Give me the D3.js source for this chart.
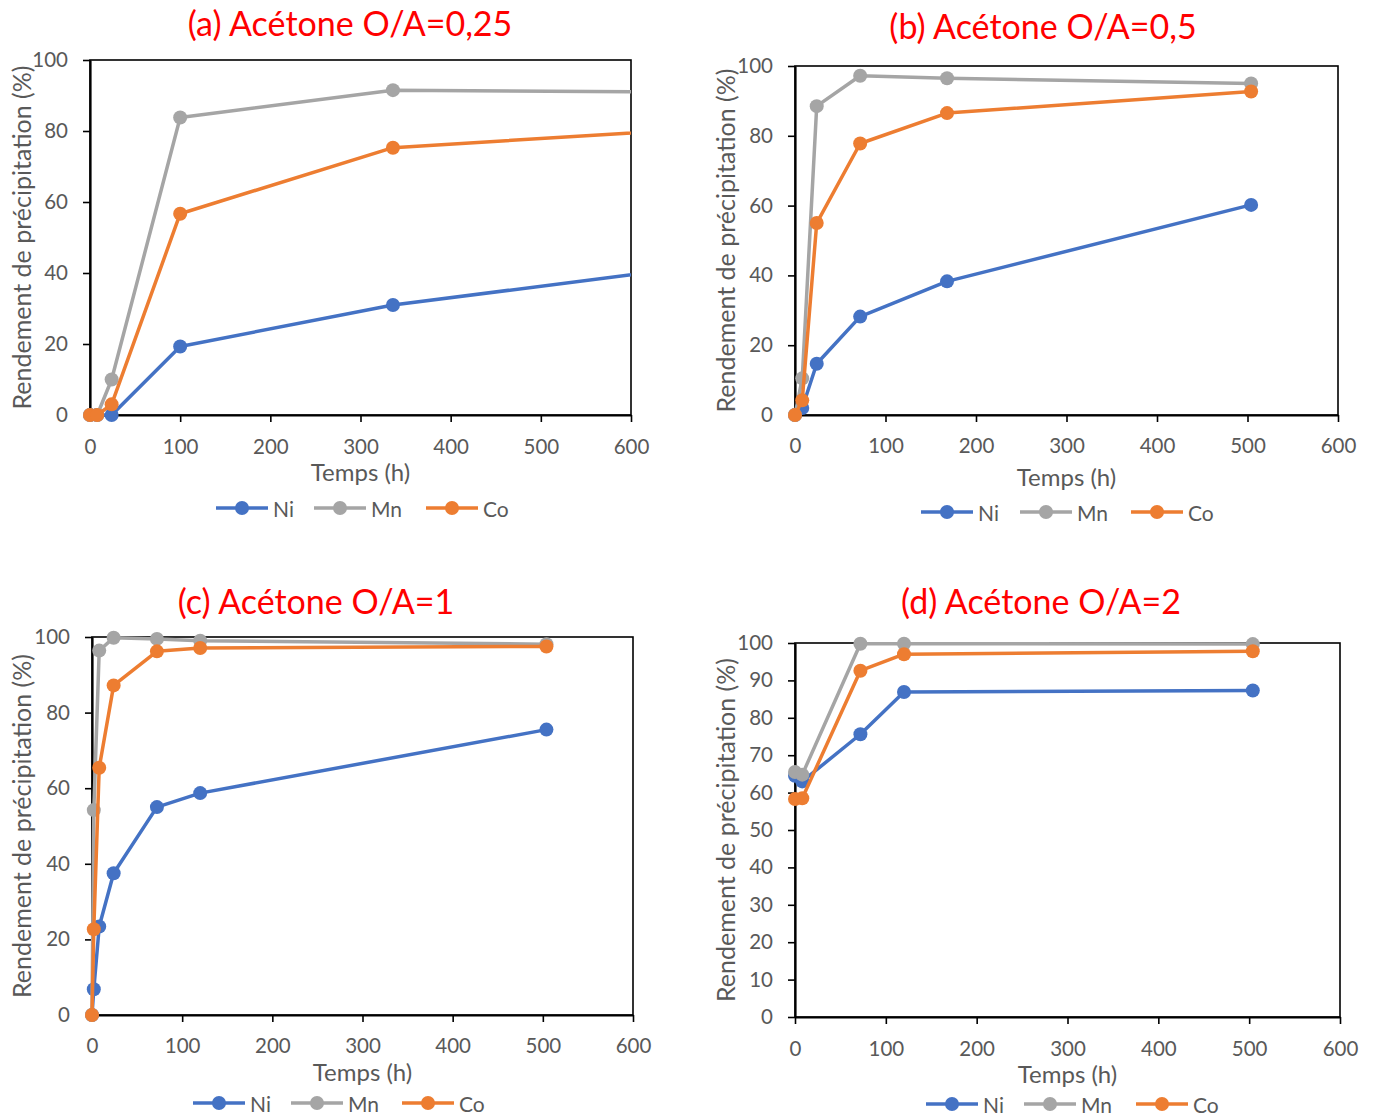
<!DOCTYPE html>
<html><head><meta charset="utf-8">
<script src="https://cdn.jsdelivr.net/npm/d3@7"></script>
<style>body{margin:0;background:#fff}svg{display:block;font-family:Lato,"Open Sans",sans-serif}</style>
</head><body><svg id="c" width="1373" height="1115"></svg>
<script>
// ---- data ----
const seriesNames = ["Ni", "Mn", "Co"];
const colors = ["#4472C4", "#A5A5A5", "#ED7D31"];
const titles = ["(a) Acétone O/A=0,25", "(b) Acétone O/A=0,5", "(c) Acétone O/A=1", "(d) Acétone O/A=2"];
const xTicks = [0, 100, 200, 300, 400, 500, 600];
const yTicksA = [0, 20, 40, 60, 80, 100];
const yTicksD = [0, 10, 20, 30, 40, 50, 60, 70, 80, 90, 100];

const timeA = [0, 8, 24, 100, 336, 672];
const niA = [0, 0, 0, 19.3, 31.0, 41.8];
const mnA = [0, 0, 10.0, 83.8, 91.5, 90.9];
const coA = [0, 0, 3.0, 56.7, 75.3, 80.6];

const timeB = [0, 8, 24, 72, 168, 504];
const niB = [0, 2.0, 14.7, 28.2, 38.3, 60.2];
const mnB = [0, 10.5, 88.5, 97.2, 96.5, 95.0];
const coB = [0, 4.2, 55.0, 77.8, 86.5, 92.7];

const timeC = [0, 2, 8, 24, 72, 120, 504];
const niC = [0, 6.8, 23.4, 37.5, 55.0, 58.7, 75.5];
const mnC = [0, 54.2, 96.4, 99.8, 99.5, 99.0, 98.1];
const coC = [0, 22.7, 65.4, 87.2, 96.2, 97.1, 97.5];

const timeD = [0, 8, 72, 120, 504];
const niD = [64.5, 63.0, 75.6, 86.9, 87.3];
const mnD = [65.5, 64.8, 99.8, 99.8, 99.7];
const coD = [58.3, 58.5, 92.6, 97.0, 97.8];

// ---- layout ----
const panels = [
  {x0:90, x1:631, yTop:60, yBot:415, time:timeA, vals:[niA,mnA,coA], yTicks:yTicksA, title:[350,36], tick:446, xt:481, leg:508, legX:[242,340,452], yt:21},
  {x0:795, x1:1338, yTop:66, yBot:415, time:timeB, vals:[niB,mnB,coB], yTicks:yTicksA, title:[1043,39], tick:445, xt:486, leg:512, legX:[947,1046,1157], yt:725},
  {x0:92, x1:633, yTop:637, yBot:1015, time:timeC, vals:[niC,mnC,coC], yTicks:yTicksA, title:[316,614], tick:1045, xt:1081, leg:1103, legX:[219,317,428], yt:21},
  {x0:795, x1:1340, yTop:643, yBot:1017, time:timeD, vals:[niD,mnD,coD], yTicks:yTicksD, title:[1041,614], tick:1048, xt:1083, leg:1104, legX:[952,1050,1162], yt:725}
];

const svg = d3.select("#c");
const textCol = "#595959";

panels.forEach((p, i) => {
  const g = svg.append("g");
  const x = d3.scaleLinear().domain([0, 600]).range([p.x0, p.x1]);
  const y = d3.scaleLinear().domain([0, 100]).range([p.yBot, p.yTop]);
  const cid = "clip" + i;
  svg.append("clipPath").attr("id", cid).append("rect")
    .attr("x", p.x0 - 30).attr("y", p.yTop - 10).attr("width", p.x1 - p.x0 + 30).attr("height", p.yBot - p.yTop + 30);

  // frame
  g.append("rect").attr("x", p.x0).attr("y", p.yTop).attr("width", p.x1 - p.x0).attr("height", p.yBot - p.yTop)
    .attr("fill", "none").attr("stroke", "#000").attr("stroke-width", 1.6);

  // axes
  const ax = g.append("g").attr("transform", `translate(0,${p.yBot})`)
    .call(d3.axisBottom(x).tickValues(xTicks).tickSize(7).tickSizeOuter(0).tickPadding(8));
  const ay = g.append("g").attr("transform", `translate(${p.x0},0)`)
    .call(d3.axisLeft(y).tickValues(p.yTicks).tickSize(7).tickSizeOuter(0).tickPadding(15));
  [ax, ay].forEach(a => {
    a.select(".domain").attr("stroke", "#000").attr("stroke-width", 2.2);
    a.selectAll(".tick line").attr("stroke", "#000").attr("stroke-width", 1.6);
    a.selectAll(".tick text").attr("fill", textCol).style("font-size", "20.5px").style("font-family", "Lato,sans-serif");
  });
  ax.selectAll(".tick text").attr("y", null).attr("dy", null)
    .attr("transform", `translate(0,${p.tick - p.yBot})`).attr("dominant-baseline", "central");

  // titles
  g.append("text").attr("x", p.title[0]).attr("y", p.title[1]).attr("text-anchor", "middle")
    .attr("fill", "#FF0000").style("font-size", "34px").text(titles[i]);
  g.append("text").attr("x", (p.x0 + p.x1) / 2).attr("y", p.xt).attr("text-anchor", "middle")
    .attr("fill", textCol).style("font-size", "24px").text("Temps (h)");
  g.append("text").attr("transform", `translate(${p.yt},${(p.yTop + p.yBot) / 2}) rotate(-90)`)
    .attr("text-anchor", "middle").attr("dominant-baseline", "central")
    .attr("fill", textCol).style("font-size", "25px").text("Rendement de précipitation (%)");

  // series
  const line = d3.line().x(d => x(d[0])).y(d => y(d[1]));
  const lines = g.append("g").attr("clip-path", `url(#${cid})`);
  p.vals.forEach((vals, s) => {
    const pts = p.time.map((t, k) => [t, vals[k]]);
    lines.append("path").datum(pts).attr("d", line).attr("fill", "none")
      .attr("stroke", colors[s]).attr("stroke-width", 3.5).attr("stroke-linejoin", "round");
    lines.selectAll(null).data(pts.filter(d => d[0] <= 600)).join("circle")
      .attr("cx", d => x(d[0])).attr("cy", d => y(d[1])).attr("r", 7).attr("fill", colors[s]);
  });

  // legend
  seriesNames.forEach((n, s) => {
    const cx = p.legX[s];
    g.append("line").attr("x1", cx - 26).attr("x2", cx + 26).attr("y1", p.leg).attr("y2", p.leg)
      .attr("stroke", colors[s]).attr("stroke-width", 3.5);
    g.append("circle").attr("cx", cx).attr("cy", p.leg).attr("r", 7).attr("fill", colors[s]);
    g.append("text").attr("x", cx + 31).attr("y", p.leg).attr("dominant-baseline", "central")
      .attr("fill", textCol).style("font-size", "21px").text(n);
  });
});
</script></body></html>
